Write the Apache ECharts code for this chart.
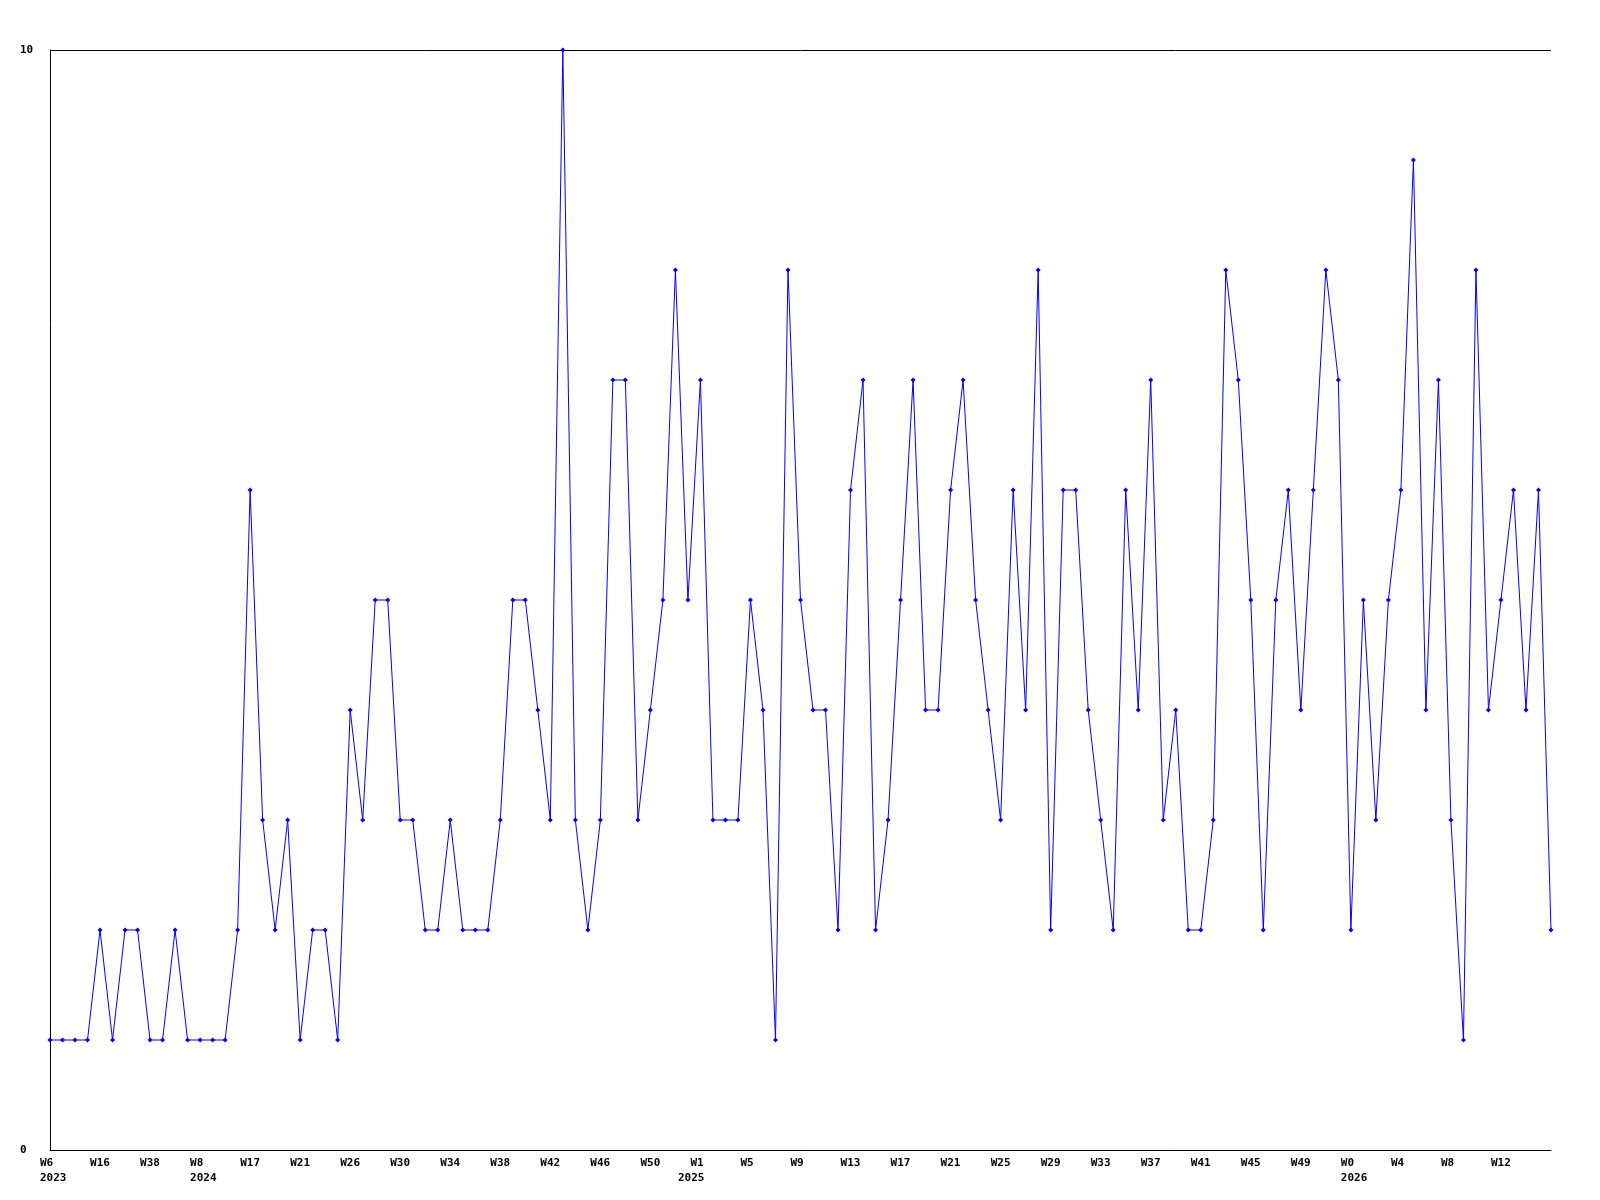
<!DOCTYPE html>
<html>
<head>
<meta charset="utf-8">
<script src="https://cdn.jsdelivr.net/npm/echarts@6/dist/echarts.min.js"></script>
<style>html,body{margin:0;padding:0;background:#fff}#c{width:1600px;height:1200px}</style>
</head>
<body>
<div id="c"></div>
<script>
// Categories: year-week
const categories = [
  '2023-W6','2023-W9','2023-W11','2023-W14','2023-W16','2023-W20','2023-W25','2023-W31',
  '2023-W38','2023-W44','2023-W47','2023-W50',
  '2024-W8','2024-W10','2024-W13','2024-W15','2024-W17','2024-W18','2024-W19','2024-W20',
  '2024-W21','2024-W22','2024-W23','2024-W25','2024-W26','2024-W27','2024-W28','2024-W29',
  '2024-W30','2024-W31','2024-W32','2024-W33','2024-W34','2024-W35','2024-W36','2024-W37',
  '2024-W38','2024-W39','2024-W40','2024-W41','2024-W42','2024-W43','2024-W44','2024-W45',
  '2024-W46','2024-W47','2024-W48','2024-W49','2024-W50','2024-W51','2024-W52',
  '2025-W0','2025-W1','2025-W2','2025-W3','2025-W4','2025-W5','2025-W6','2025-W7','2025-W8',
  '2025-W9','2025-W10','2025-W11','2025-W12','2025-W13','2025-W14','2025-W15','2025-W16',
  '2025-W17','2025-W18','2025-W19','2025-W20','2025-W21','2025-W22','2025-W23','2025-W24',
  '2025-W25','2025-W26','2025-W27','2025-W28','2025-W29','2025-W30','2025-W31','2025-W32',
  '2025-W33','2025-W34','2025-W35','2025-W36','2025-W37','2025-W38','2025-W39','2025-W40',
  '2025-W41','2025-W42','2025-W43','2025-W44','2025-W45','2025-W46','2025-W47','2025-W48',
  '2025-W49','2025-W50','2025-W51','2025-W52',
  '2026-W0','2026-W1','2026-W2','2026-W3','2026-W4','2026-W5','2026-W6','2026-W7',
  '2026-W8','2026-W9','2026-W10','2026-W11','2026-W12','2026-W13','2026-W14','2026-W15','2026-W16'
];
const values = [
  1,1,1,1,2,1,2,2,1,1,2,1,1,1,1,2,6,3,2,3,
  1,2,2,1,4,3,5,5,3,3,2,2,3,2,2,2,3,5,5,4,
  3,10,3,2,3,7,7,3,4,5,8,5,7,3,3,3,5,4,1,8,
  5,4,4,2,6,7,2,3,5,7,4,4,6,7,5,4,3,6,4,8,
  2,6,6,4,3,2,6,4,7,3,4,2,2,3,8,7,5,2,5,6,
  4,6,8,7,2,5,3,5,6,9,4,7,3,1,8,4,5,6,4,6,2
];
const yTicks = [0, 10];
const weekLabelEvery = 4;

const yearOf = c => c.split('-')[0];
const weekOf = c => c.split('-')[1];
const isYearStart = i => i === 0 || yearOf(categories[i]) !== yearOf(categories[i - 1]);

const font = { fontFamily: 'DejaVu Sans Mono', fontWeight: 'bold', fontSize: 11, color: '#000' };

const chart = echarts.init(document.getElementById('c'), null, { renderer: 'canvas' });
chart.setOption({
  animation: false,
  backgroundColor: '#fff',
  grid: { left: 50, right: 49, top: 50, bottom: 50, containLabel: false },
  xAxis: [{
    type: 'category', data: categories, boundaryGap: false, position: 'bottom',
    axisLine: { show: true, lineStyle: { color: '#000', width: 1 } },
    axisTick: { show: false },
    splitLine: { show: false },
    axisLabel: Object.assign({}, font, {
      interval: (i) => i % weekLabelEvery === 0 && i < categories.length - 1,
      formatter: (v) => weekOf(v),
      align: 'left', verticalAlign: 'top', margin: 7, lineHeight: 12,
      padding: [0, 0, 0, -10]
    })
  }, {
    type: 'category', data: categories, boundaryGap: false, position: 'bottom',
    axisLine: { show: false }, axisTick: { show: false }, splitLine: { show: false },
    axisLabel: Object.assign({}, font, {
      interval: (i) => isYearStart(i),
      formatter: (v) => yearOf(v),
      align: 'left', verticalAlign: 'top', margin: 22, lineHeight: 12,
      padding: [0, 0, 0, -10]
    })
  }],
  yAxis: {
    type: 'value', min: yTicks[0], max: yTicks[1], interval: 10,
    axisLine: { show: true, lineStyle: { color: '#000', width: 1 } },
    axisTick: { show: false },
    splitLine: { show: true, lineStyle: { color: '#000', width: 1 } },
    axisLabel: Object.assign({}, font, { align: 'left', margin: 30 })
  },
  series: [{
    type: 'line', data: values, xAxisIndex: 0,
    symbol: 'diamond', symbolSize: 5, showSymbol: true,
    itemStyle: { color: '#0000ff' },
    lineStyle: { color: '#0000ff', width: 1 }
  }]
});
</script>
</body>
</html>
